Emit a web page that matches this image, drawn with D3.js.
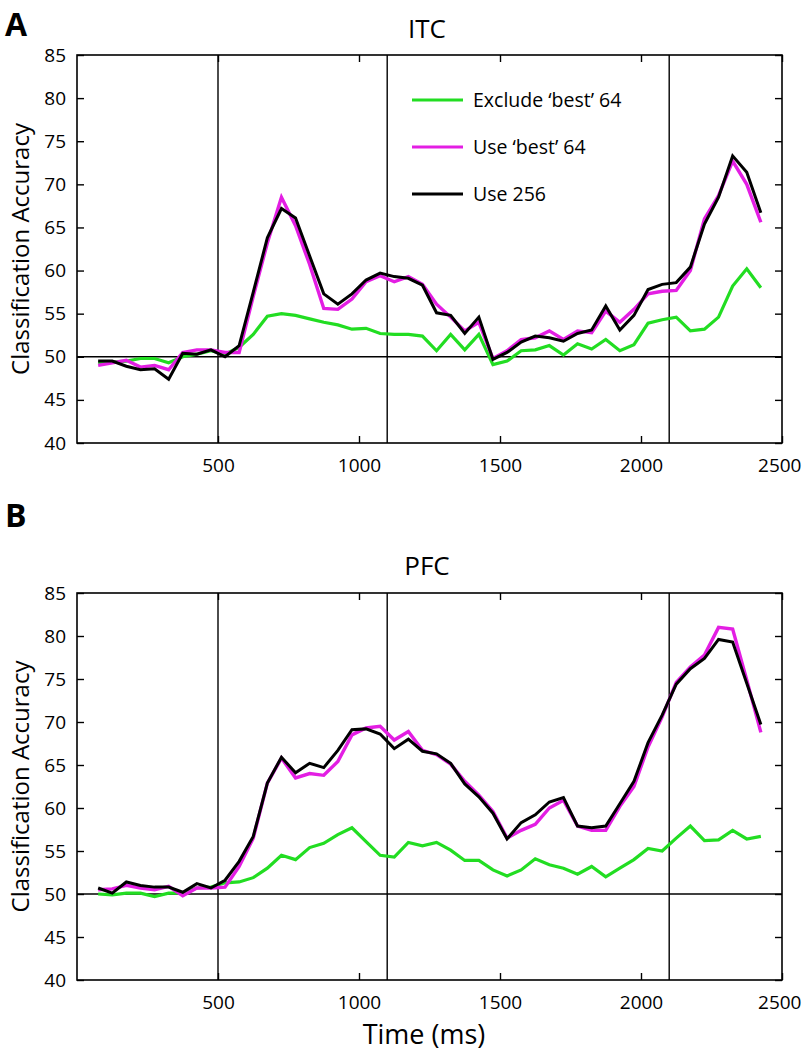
<!DOCTYPE html>
<html>
<head>
<meta charset="utf-8">
<script src="https://cdn.jsdelivr.net/npm/d3@7"></script>
<style>
  html, body { margin: 0; padding: 0; background: #fff; }
  svg { display: block; }
  text { font-family: "Open Sans", "Noto Sans", sans-serif; fill: #000; }
</style>
</head>
<body>
<div id="chart"></div>
<script>
// ---------- data ----------
const times = [75,125,175,225,275,325,375,425,475,525,575,625,675,725,775,825,875,925,975,1025,
  1075,1125,1175,1225,1275,1325,1375,1425,1475,1525,1575,1625,1675,1725,1775,1825,1875,1925,1975,2025,
  2075,2125,2175,2225,2275,2325,2375,2425];

const itcExclude = [49.3,49.4,49.5,49.8,49.8,49.3,50.0,50.3,50.7,50.3,51.1,52.6,54.7,55.0,54.8,54.4,54.0,53.7,53.2,53.3,
  52.7,52.6,52.6,52.4,50.7,52.6,50.8,52.6,49.1,49.5,50.7,50.8,51.3,50.2,51.5,50.9,52.0,50.7,51.4,53.9,
  54.3,54.6,53.0,53.2,54.6,58.2,60.2,58.0];
const itcBest = [49.0,49.3,49.6,48.8,49.0,48.5,50.5,50.8,50.8,50.5,50.5,57.0,63.2,68.5,65.2,60.7,55.6,55.5,56.7,58.7,
  59.4,58.7,59.3,58.4,56.1,54.6,53.0,54.0,49.8,50.7,52.0,52.2,53.0,52.0,53.0,52.8,55.3,54.0,55.5,57.3,
  57.6,57.7,60.0,66.0,68.7,72.7,70.0,65.6];
const itcAll = [49.5,49.5,48.9,48.5,48.6,47.4,50.4,50.3,50.8,50.0,51.3,57.5,63.8,67.2,66.1,61.7,57.3,56.1,57.3,58.9,
  59.7,59.3,59.1,58.3,55.1,54.8,52.7,54.6,49.7,50.5,51.7,52.4,52.2,51.8,52.7,53.1,55.9,53.1,54.8,57.8,
  58.4,58.6,60.4,65.4,68.5,73.3,71.4,66.7];

const pfcExclude = [50.0,49.9,50.1,50.1,49.7,50.1,50.1,50.7,50.8,51.3,51.4,51.9,53.0,54.5,54.0,55.4,55.9,56.9,57.7,56.1,
  54.5,54.3,56.0,55.6,56.0,55.1,53.9,53.9,52.8,52.1,52.8,54.1,53.4,53.0,52.3,53.2,52.0,53.0,54.0,55.3,
  55.0,56.5,57.9,56.2,56.3,57.4,56.4,56.7];
const pfcBest = [50.5,50.6,51.0,50.7,50.5,50.9,49.8,50.7,50.7,50.8,53.2,56.5,62.9,65.8,63.5,64.0,63.8,65.4,68.5,69.3,
  69.5,67.9,68.9,66.7,66.2,65.1,63.1,61.5,59.6,56.5,57.4,58.1,60.0,60.9,57.9,57.4,57.4,60.2,62.5,67.1,
  70.6,74.6,76.4,77.8,81.0,80.8,74.9,68.8];
const pfcAll = [50.7,50.1,51.4,51.0,50.8,50.8,50.2,51.2,50.7,51.6,53.8,56.7,62.9,65.9,64.1,65.2,64.7,66.7,69.1,69.2,
  68.6,66.9,68.0,66.6,66.3,65.2,62.8,61.3,59.4,56.4,58.3,59.2,60.7,61.2,57.9,57.7,57.9,60.5,63.1,67.6,
  70.8,74.4,76.2,77.4,79.6,79.3,74.5,69.7];

const seriesNames = ["Exclude \u2018best\u2019 64", "Use \u2018best\u2019 64", "Use 256"];
const seriesColors = ["#22dd22", "#e31ee3", "#000000"];
const yTicks = [40,45,50,55,60,65,70,75,80,85];
const xTicks = [500,1000,1500,2000,2500];
const eventTimes = [500,1100,2100];
const chanceLevel = 50;

// ---------- drawing ----------
const W = 802, H = 1052;
const svg = d3.select("#chart").append("svg").attr("width", W).attr("height", H);

const L = 77, R = 782;

function panel(cfg) {
  const x = d3.scaleLinear().domain([0, 2500]).range([L, R]);
  const y = d3.scaleLinear().domain([40, 85]).range([cfg.bottom, cfg.top]);
  const g = svg.append("g");

  // reference lines
  g.selectAll("line.ev").data(eventTimes).enter().append("line")
    .attr("x1", d => x(d)).attr("x2", d => x(d))
    .attr("y1", cfg.top).attr("y2", cfg.bottom)
    .attr("stroke", "#000").attr("stroke-width", 1.4);
  g.append("line")
    .attr("x1", L).attr("x2", R)
    .attr("y1", y(chanceLevel)).attr("y2", y(chanceLevel))
    .attr("stroke", "#000").attr("stroke-width", 1.4);

  // data lines
  const line = d3.line().x((d, i) => x(times[i])).y(d => y(d));
  const widths = [3.2, 3.4, 3.0];
  cfg.series.forEach((s, i) => {
    g.append("path").datum(s)
      .attr("fill", "none")
      .attr("stroke", seriesColors[i])
      .attr("stroke-width", widths[i])
      .attr("stroke-linejoin", "miter")
      .attr("d", line);
  });

  // axes
  const fs = 19;
  const ax = g.append("g").attr("transform", `translate(${L},0)`)
    .call(d3.axisLeft(y).tickValues(yTicks).tickSize(-7).tickSizeOuter(0).tickPadding(11));
  const axR = g.append("g").attr("transform", `translate(${R},0)`)
    .call(d3.axisRight(y).tickValues(yTicks).tickSize(-7).tickSizeOuter(0).tickFormat(""));
  const axB = g.append("g").attr("transform", `translate(0,${cfg.bottom})`)
    .call(d3.axisBottom(x).tickValues(xTicks).tickSize(-7).tickSizeOuter(0).tickPadding(16).tickFormat(d3.format("d")));
  const axT = g.append("g").attr("transform", `translate(0,${cfg.top})`)
    .call(d3.axisTop(x).tickValues(xTicks).tickSize(-7).tickSizeOuter(0).tickFormat(""));
  [ax, axR, axB, axT].forEach(a => {
    a.select(".domain").remove();
    a.selectAll(".tick line").attr("stroke", "#000").attr("stroke-width", 1.4);
    a.selectAll("text").attr("font-size", fs).attr("font-family", "\"Open Sans\", sans-serif").attr("fill", "#000");
  });
  // keep last x label inside the page
  axB.selectAll(".tick text").filter(d => d === 2500)
    .attr("text-anchor", "end").attr("x", 19);

  // frame
  g.append("rect").attr("x", L).attr("y", cfg.top)
    .attr("width", R - L).attr("height", cfg.bottom - cfg.top)
    .attr("fill", "none").attr("stroke", "#000").attr("stroke-width", 1.6);

  // titles
  g.append("text").attr("x", 427).attr("y", cfg.titleY)
    .attr("text-anchor", "middle").attr("font-size", 26).text(cfg.title);
  g.append("text").attr("x", 5).attr("y", cfg.letterY)
    .attr("font-size", 32).attr("font-weight", "bold").text(cfg.letter);
  g.append("text")
    .attr("transform", `translate(29,${(cfg.top + cfg.bottom) / 2}) rotate(-90)`)
    .attr("text-anchor", "middle").attr("font-size", 24).text("Classification Accuracy");

  return {x, y, g};
}

const p1 = panel({top: 55, bottom: 443, titleY: 38, letterY: 36, title: "ITC", letter: "A", series: [itcExclude, itcBest, itcAll]});
const p2 = panel({top: 593, bottom: 980, titleY: 575, letterY: 527, title: "PFC", letter: "B", series: [pfcExclude, pfcBest, pfcAll]});

// legend (top panel)
const legY = [100, 147, 194];
seriesNames.forEach((n, i) => {
  p1.g.append("line").attr("x1", 412).attr("x2", 463).attr("y1", legY[i]).attr("y2", legY[i])
    .attr("stroke", seriesColors[i]).attr("stroke-width", 3.2);
  p1.g.append("text").attr("x", 473).attr("y", legY[i]).attr("dy", "0.36em")
    .attr("font-size", 19.5).text(n);
});

// x-axis title
svg.append("text").attr("x", 424).attr("y", 1044).attr("text-anchor", "middle")
  .attr("font-size", 27).text("Time (ms)");
</script>
</body>
</html>
